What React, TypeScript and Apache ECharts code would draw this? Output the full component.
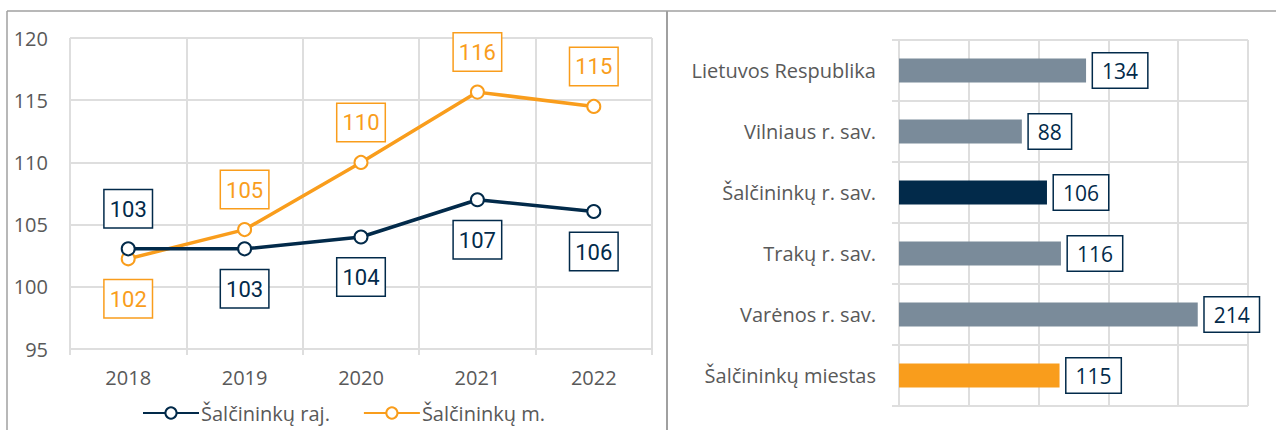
import React, { useEffect, useRef } from "react";
import * as echarts from "echarts";

const years = ["2018", "2019", "2020", "2021", "2022"];
const rajValues = [103.05, 103.05, 104.0, 107.0, 106.05];
const miestValues = [102.25, 104.6, 110.0, 115.65, 114.5];
const rajLabelPos = ["top", "bottom", "bottom", "bottom", "bottom"];
const miestLabelPos = ["bottom", "top", "top", "top", "top"];
const seriesNames = ["Šalčininkų raj.", "Šalčininkų m."];

const regions = [
  "Lietuvos Respublika",
  "Vilniaus r. sav.",
  "Šalčininkų r. sav.",
  "Trakų r. sav.",
  "Varėnos r. sav.",
  "Šalčininkų miestas",
];
const regionValues = [134, 88, 106, 116, 214, 115];
const regionColors = ["#7A8B9A", "#7A8B9A", "#022A4A", "#7A8B9A", "#7A8B9A", "#F99D1C"];

const NAVY = "#022A4A";
const ORANGE = "#F99D1C";
const GRID = "#DEDEDE";
const TXT = "#595959";
const FONT = "'Open Sans', 'Noto Sans', sans-serif";
const NARROW = "'Roboto', sans-serif";

export default function App() {
  const ref = useRef<HTMLDivElement>(null);
  useEffect(() => {
    if (!ref.current) return;
    const chart = echarts.init(ref.current, undefined, { renderer: "svg" });
    const lineLabel = (color: string) => ({
      show: true,
      formatter: (p: any) => String(Math.round(p.value)),
      fontSize: 22,
      lineHeight: 22,
      fontWeight: "normal",
      fontFamily: NARROW,
      color,
      backgroundColor: "#fff",
      borderColor: color,
      borderWidth: 1.5,
      padding: [8, 5, 7, 5],
      distance: 14,
    });
    chart.setOption({
      animation: false,
      textStyle: { fontFamily: FONT },
      graphic: [
        { type: "line", shape: { x1: 7, y1: 11, x2: 1276, y2: 11 }, style: { stroke: "#A0A0A0", lineWidth: 1.5 } },
        { type: "line", shape: { x1: 7, y1: 11, x2: 7, y2: 430 }, style: { stroke: "#A0A0A0", lineWidth: 1.5 } },
        { type: "line", shape: { x1: 667, y1: 11, x2: 667, y2: 430 }, style: { stroke: "#A0A0A0", lineWidth: 2 } },
      ],
      legend: {
        left: 137,
        top: 398,
        itemWidth: 56,
        itemHeight: 14,
        itemGap: 33,
        textStyle: { fontSize: 20, color: TXT, fontFamily: FONT, padding: [0, 0, 0, -3] },
        data: seriesNames,
      },
      grid: [
        { left: 70, top: 38, width: 582, height: 311 },
        { left: 899, top: 40, width: 349, height: 366 },
      ],
      xAxis: [
        {
          gridIndex: 0,
          type: "category",
          data: years,
          boundaryGap: true,
          axisLine: { lineStyle: { color: GRID, width: 2 } },
          axisTick: { show: true, length: 6, lineStyle: { color: GRID, width: 2 } },
          splitLine: { show: true, lineStyle: { color: GRID, width: 2 } },
          axisLabel: { fontSize: 20, color: TXT, margin: 18, fontFamily: FONT },
        },
        {
          gridIndex: 1,
          type: "value",
          min: 0,
          max: 250,
          interval: 50,
          axisLabel: { show: false },
          axisLine: { show: false },
          axisTick: { show: false },
          splitLine: { show: true, lineStyle: { color: GRID, width: 2 } },
        },
      ],
      yAxis: [
        {
          gridIndex: 0,
          type: "value",
          min: 95,
          max: 120,
          interval: 5,
          axisLine: { show: false },
          axisTick: { show: false },
          splitLine: { show: true, lineStyle: { color: GRID, width: 2 } },
          axisLabel: { fontSize: 20, color: TXT, margin: 22, fontFamily: FONT },
        },
        {
          gridIndex: 1,
          type: "category",
          data: regions,
          inverse: true,
          axisLine: { show: true, lineStyle: { color: GRID, width: 2 } },
          axisTick: { show: true, length: 7, lineStyle: { color: GRID, width: 2 } },
          splitLine: { show: true, lineStyle: { color: GRID, width: 2 } },
          axisLabel: { fontSize: 20, color: TXT, margin: 23, fontFamily: FONT },
        },
      ],
      series: [
        {
          name: seriesNames[0],
          type: "line",
          xAxisIndex: 0,
          yAxisIndex: 0,
          data: rajValues.map((v, i) => ({ value: v, label: { position: rajLabelPos[i] } })),
          color: NAVY,
          symbol: "emptyCircle",
          symbolSize: 13,
          itemStyle: { color: NAVY, borderWidth: 1.5 },
          lineStyle: { color: NAVY, width: 3.5 },
          label: lineLabel(NAVY),
          z: 3,
        },
        {
          name: seriesNames[1],
          type: "line",
          xAxisIndex: 0,
          yAxisIndex: 0,
          data: miestValues.map((v, i) => ({ value: v, label: { position: miestLabelPos[i] } })),
          color: ORANGE,
          symbol: "emptyCircle",
          symbolSize: 13,
          itemStyle: { color: ORANGE, borderWidth: 1.5 },
          lineStyle: { color: ORANGE, width: 3.5 },
          label: lineLabel(ORANGE),
          z: 2,
        },
        {
          type: "bar",
          xAxisIndex: 1,
          yAxisIndex: 1,
          barWidth: 24,
          data: regionValues.map((v, i) => ({ value: v, itemStyle: { color: regionColors[i] } })),
          label: {
            show: true,
            position: "right",
            distance: 7,
            fontSize: 21,
            fontFamily: FONT,
            color: NAVY,
            backgroundColor: "#fff",
            borderColor: NAVY,
            borderWidth: 1.5,
            padding: [7, 9, 6, 9],
          },
        },
      ],
    });
    return () => chart.dispose();
  }, []);
  return (
    <div
      ref={ref}
      style={{ position: "absolute", left: 0, top: 0, width: 1276, height: 430, background: "#fff" }}
    />
  );
}
